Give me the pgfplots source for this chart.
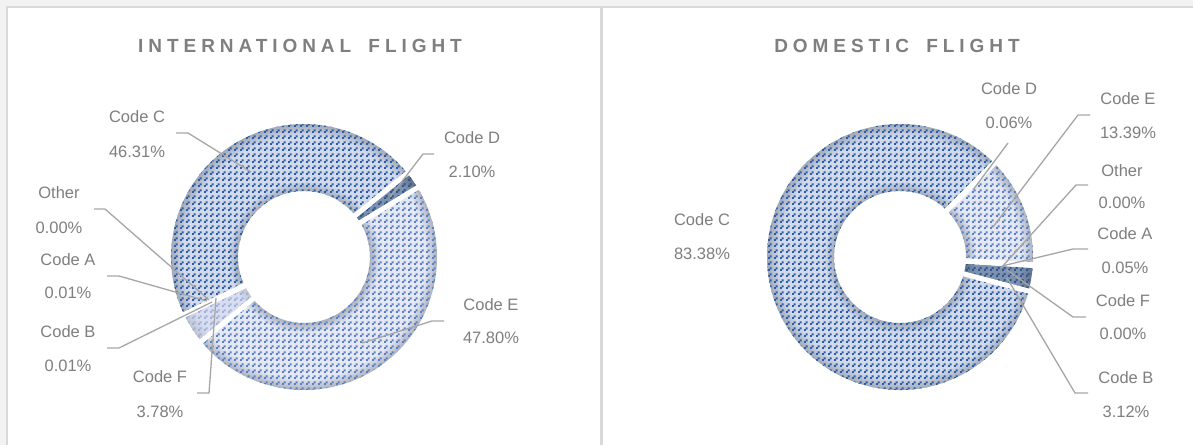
\documentclass[border=0pt]{standalone}
\usepackage{fontspec}
\setmainfont{Liberation Sans}
\newfontfamily\titlefont[LetterSpace=26]{Liberation Sans}
\usepackage{pgfplots}
\pgfplotsset{compat=1.18}
\usepackage{pgfplotstable}
\usetikzlibrary{patterns.meta}

\definecolor{pagebg}{HTML}{F2F2F2}
\definecolor{panelline}{HTML}{D9D9D9}
\definecolor{txtgray}{HTML}{7F7F7F}
\definecolor{leadgray}{HTML}{A6A6A6}
\definecolor{bgC}{HTML}{D0DAEB}\definecolor{edgeC}{HTML}{9FA9B8}\definecolor{dotC}{HTML}{2D5BA5}
\definecolor{bgE}{HTML}{E3E8F3}\definecolor{edgeE}{HTML}{AAB1BE}\definecolor{dotE}{HTML}{5C7FC4}
\definecolor{bgD}{HTML}{7D92B0}\definecolor{edgeD}{HTML}{62728A}\definecolor{dotD}{HTML}{34568A}
\definecolor{bgF}{HTML}{D8DDEF}\definecolor{edgeF}{HTML}{C0C5D3}\definecolor{dotF}{HTML}{A2B0DA}
\colorlet{basecol}{bgC}\colorlet{edgecol}{edgeC}

\pgfdeclareradialshading[basecol,edgecol]{ring}{\pgfpointorigin}{%
  color(0bp)=(edgecol); color(12.4bp)=(edgecol); color(14.3bp)=(basecol);
  color(22.8bp)=(basecol); color(25bp)=(edgecol); color(50bp)=(edgecol)}

\tikzdeclarepattern{
  name=dashdiag,
  type=uncolored,
  bottom left={(0bp,0bp)},
  top right={(6bp,6bp)},
  tile size={(6bp,6bp)},
  code={\fill (0bp,0bp) rectangle (2.3bp,2.3bp); \fill (2bp,2bp) rectangle (4.3bp,4.3bp);}
}

% International flight: slices clockwise from the start angle
\pgfplotstableread{
name  val    sty
A     0.01   F
B     0.01   F
C     46.31  C
D     2.10   D
E     47.80  E
F     3.78   F
Other 0.00   F
}\intl
% Domestic flight
\pgfplotstableread{
name  val    sty
D     0.06   D
E     13.39  E
Other 0.00   F
A     0.05   D
F     0.00   F
B     3.12   D
C     83.38  C
}\dom

\newcommand\prep[3]{%
  \pgfplotstablegetrowsof{#1}\pgfmathtruncatemacro\nlast{\pgfplotsretval-1}%
  \xdef\cum{#3}%
  \foreach \i in {0,...,\nlast}{%
    \pgfplotstablegetelem{\i}{val}\of{#1}\let\vv\pgfplotsretval
    \pgfmathsetmacro\sa{90-\cum}%
    \pgfmathsetmacro\nc{\cum+3.6*\vv}%
    \pgfmathsetmacro\ea{90-\nc}%
    \expandafter\xdef\csname #2s\i\endcsname{\sa}%
    \expandafter\xdef\csname #2e\i\endcsname{\ea}%
    \pgfplotstablegetelem{\i}{sty}\of{#1}%
    \expandafter\xdef\csname #2c\i\endcsname{\pgfplotsretval}%
    \xdef\cum{\nc}%
  }%
}
\newcommand\seg[4]{%
  \edef\segS{\csname #1s#2\endcsname}%
  \edef\segE{\csname #1e#2\endcsname}%
  \edef\segT{\csname #1c#2\endcsname}%
  \colorlet{basecol}{bg\segT}\colorlet{edgecol}{edge\segT}%
  \begin{scope}
    \clip (axis cs:#3,#4) ++(\segS:133bp) arc[start angle=\segS,end angle=\segE,radius=133bp]
      -- ++(\segE:-67bp) arc[start angle=\segE,end angle=\segS,radius=66bp] -- cycle;
    \shade[shading=ring] (axis cs:#3,#4) circle[radius=133bp];
    \fill[pattern=dashdiag, pattern color=dot\segT] (axis cs:#3,#4) circle[radius=134bp];
  \end{scope}
}
\newcommand\gap[4]{%
  \edef\segS{\csname #1s#2\endcsname}%
  \draw[white,line width=5bp] (axis cs:#3,#4) ++(\segS:60bp) -- ++(\segS:78bp);
}

\begin{document}
\begin{tikzpicture}[
  lab/.style={text=txtgray,font=\fontsize{16.5bp}{19bp}\selectfont,inner sep=0pt,anchor=center},
  ttl/.style={text=txtgray,font=\titlefont\bfseries\fontsize{19bp}{22bp}\selectfont,inner sep=0pt},
  lead/.style={leadgray,line width=1.3bp}]
\prep{\intl}{I}{244.2}
\prep{\dom}{M}{45}
\begin{axis}[x=1bp,y=1bp,xmin=0,xmax=1193,ymin=0,ymax=445,y dir=reverse,
  hide axis,clip=false,anchor=south west,at={(0,0)}]
  % page and panels
  \fill[pagebg] (axis cs:0,0) rectangle (axis cs:1193,445);
  \filldraw[fill=white,draw=panelline,line width=2bp] (axis cs:7,7) rectangle (axis cs:601,452);
  \filldraw[fill=white,draw=panelline,line width=2bp] (axis cs:602,7) rectangle (axis cs:1200,452);
  % titles
  \node[ttl] at (axis cs:300,46) {INTERNATIONAL\hspace{7bp} FLIGHT};
  \node[ttl] at (axis cs:897,46) {DOMESTIC\hspace{7bp} FLIGHT};
  % donuts
  \pgfplotsinvokeforeach{0,...,6}{\pgfplotsextra{\seg{I}{#1}{304}{257}}}
  \pgfplotsinvokeforeach{0,...,6}{\pgfplotsextra{\gap{I}{#1}{304}{257}}}
  \pgfplotsinvokeforeach{0,...,6}{\pgfplotsextra{\seg{M}{#1}{900}{257}}}
  \pgfplotsinvokeforeach{0,...,6}{\pgfplotsextra{\gap{M}{#1}{900}{257}}}
  % leader lines, international
  \addplot[lead,no markers,forget plot] coordinates {(176,133) (188,133) (251,172)};
  \addplot[lead,no markers,forget plot] coordinates {(434,154) (423,154) (390,197)};
  \addplot[lead,no markers,forget plot] coordinates {(94,209) (105,209) (209,300)};
  \addplot[lead,no markers,forget plot] coordinates {(107,276) (119,276) (207,301)};
  \addplot[lead,no markers,forget plot] coordinates {(107,348) (119,348) (212,302)};
  \addplot[lead,no markers,forget plot] coordinates {(197,393) (209,393) (216,298)};
  \addplot[lead,no markers,forget plot] coordinates {(444,321) (432,321) (362,343)};
  % leader lines, domestic
  \addplot[lead,no markers,forget plot] coordinates {(1008,143) (973,190)};
  \addplot[lead,no markers,forget plot] coordinates {(1090,115) (1078,115) (993,227)};
  \addplot[lead,no markers,forget plot] coordinates {(1088,185) (1076,185) (1001,268)};
  \addplot[lead,no markers,forget plot] coordinates {(1088,249) (1073,249) (1002,266)};
  \addplot[lead,no markers,forget plot] coordinates {(1086,317) (1073,317) (1007,270)};
  \addplot[lead,no markers,forget plot] coordinates {(1088,393) (1075,393) (1007,278)};
  % labels, international
  \node[lab] at (axis cs:137,117) {Code C};  \node[lab] at (axis cs:137,152) {46.31\%};
  \node[lab] at (axis cs:472,138) {Code D};  \node[lab] at (axis cs:472,172) {2.10\%};
  \node[lab] at (axis cs:59,193) {Other};    \node[lab] at (axis cs:59,228) {0.00\%};
  \node[lab] at (axis cs:68,260) {Code A};   \node[lab] at (axis cs:68,293) {0.01\%};
  \node[lab] at (axis cs:68,332) {Code B};   \node[lab] at (axis cs:68,366) {0.01\%};
  \node[lab] at (axis cs:160,377) {Code F};  \node[lab] at (axis cs:160,412) {3.78\%};
  \node[lab] at (axis cs:491,305) {Code E};  \node[lab] at (axis cs:491,338) {47.80\%};
  % labels, domestic
  \node[lab] at (axis cs:1009,89) {Code D};  \node[lab] at (axis cs:1009,123) {0.06\%};
  \node[lab] at (axis cs:1128,99) {Code E};  \node[lab] at (axis cs:1128,133) {13.39\%};
  \node[lab] at (axis cs:1122,171) {Other};  \node[lab] at (axis cs:1122,203) {0.00\%};
  \node[lab] at (axis cs:1125,234) {Code A}; \node[lab] at (axis cs:1125,268) {0.05\%};
  \node[lab] at (axis cs:1123,301) {Code F}; \node[lab] at (axis cs:1123,334) {0.00\%};
  \node[lab] at (axis cs:1126,378) {Code B}; \node[lab] at (axis cs:1126,412) {3.12\%};
  \node[lab] at (axis cs:702,220) {Code C};  \node[lab] at (axis cs:702,254) {83.38\%};
\end{axis}
\pgfresetboundingbox
\useasboundingbox (0,0) rectangle (1193bp,445bp);
\end{tikzpicture}
\end{document}
